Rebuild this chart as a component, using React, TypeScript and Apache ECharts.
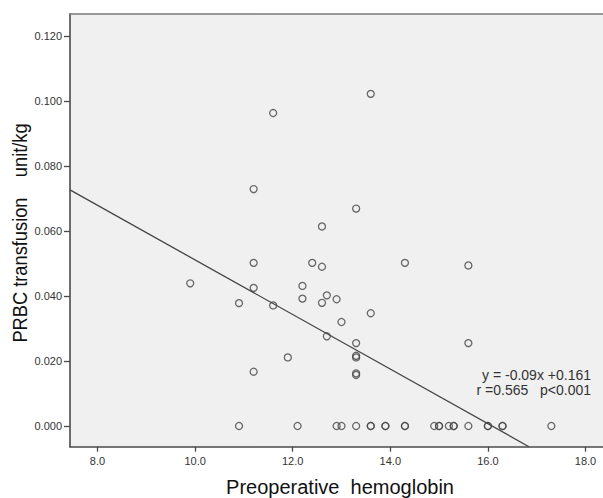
import React, { useEffect, useRef } from "react";
import * as echarts from "echarts";

// Preoperative hemoglobin (g/dL) vs PRBC transfusion (unit/kg)
const hemoglobin: number[] = [
  9.9, 10.9, 11.2, 11.2, 11.2, 11.2, 11.6, 11.6, 11.9, 12.2, 12.2, 12.4, 12.6, 12.6, 12.6,
  12.7, 12.7, 12.9, 13.0, 13.3, 13.3, 13.3, 13.3, 13.3, 13.3, 13.6, 13.6, 14.3, 15.6, 15.6,
];
const transfusion: number[] = [
  0.0439, 0.0378, 0.0729, 0.0502, 0.0425, 0.0167, 0.0963, 0.0371, 0.0211, 0.0431, 0.0392,
  0.0502, 0.0614, 0.049, 0.0379, 0.0402, 0.0276, 0.039, 0.032, 0.0669, 0.0255, 0.0216,
  0.0211, 0.0162, 0.0157, 0.1022, 0.0347, 0.0502, 0.0494, 0.0255,
];
// patients with no transfusion (value 0)
const hemoglobinZero: number[] = [
  10.9, 12.1, 12.9, 13.0, 13.3, 13.6, 13.6, 13.9, 13.9, 14.3, 14.3, 14.9, 15.0, 15.0, 15.2,
  15.3, 15.3, 15.6, 16.0, 16.0, 16.3, 16.3, 17.3,
];
const zeroValue = 0;

const xTicks: number[] = [8, 10, 12, 14, 16, 18];
const yTicks: number[] = [0, 0.02, 0.04, 0.06, 0.08, 0.1, 0.12];

const fitSlope = -0.0084;
const fitIntercept = 0.1351;
const annotationLine1 = "y = -0.09x +0.161";
const annotationLine2 = "r =0.565   p<0.001";

const xMin = 7.4365;
const xMax = 18.359;
const yMin = -0.00637;
const yMax = 0.12677;

const FONT = "'Liberation Sans', Arial, sans-serif";

export default function App() {
  const ref = useRef<HTMLDivElement>(null);
  useEffect(() => {
    if (!ref.current) return;
    const chart = echarts.init(ref.current, undefined, { renderer: "svg" });

    const points: number[][] = hemoglobin.map((x, i) => [x, transfusion[i]]);
    const zeros: number[][] = hemoglobinZero.map((x) => [x, zeroValue]);
    const xEnd = (fitIntercept - yMin) / -fitSlope;
    const fitLine: number[][] = [
      [xMin, fitIntercept + fitSlope * xMin],
      [xEnd, fitIntercept + fitSlope * xEnd],
    ];

    chart.setOption({
      animation: false,
      backgroundColor: "#ffffff",
      grid: {
        left: 70,
        top: 14,
        right: 0,
        bottom: 498 - 446.7,
        show: true,
        backgroundColor: "#f0f0f0",
        borderWidth: 0,
      },
      xAxis: [
        {
          type: "value",
          min: xMin,
          max: xMax,
          splitLine: { show: false },
          axisLine: { show: true, onZero: false, lineStyle: { color: "#4a4a4a", width: 1.6 } },
          axisTick: {
            show: true,
            inside: false,
            length: 5,
            customValues: xTicks,
            lineStyle: { color: "#4a4a4a", width: 1.3 },
          },
          axisLabel: {
            customValues: xTicks,
            formatter: (v: number) => v.toFixed(1),
            color: "#333",
            fontSize: 11,
            fontFamily: FONT,
            margin: 9,
          },
        },
        {
          type: "value",
          position: "top",
          min: xMin,
          max: xMax,
          splitLine: { show: false },
          axisLine: { show: true, onZero: false, lineStyle: { color: "#7a7a7a", width: 1.6 } },
          axisTick: { show: false },
          axisLabel: { show: false },
        },
      ],
      yAxis: {
        type: "value",
        min: yMin,
        max: yMax,
        splitLine: { show: false },
        axisLine: { show: true, onZero: false, lineStyle: { color: "#4a4a4a", width: 1.6 } },
        axisTick: {
          show: true,
          inside: false,
          length: 6,
          customValues: yTicks,
          lineStyle: { color: "#4a4a4a", width: 1.3 },
        },
        axisLabel: {
          customValues: yTicks,
          formatter: (v: number) => v.toFixed(3),
          color: "#333",
          fontSize: 11,
          fontFamily: FONT,
          margin: 8,
        },
      },
      series: [
        {
          type: "line",
          data: fitLine,
          showSymbol: false,
          symbol: "none",
          lineStyle: { color: "#444", width: 1.3 },
          z: 2,
        },
        {
          type: "scatter",
          data: points,
          symbol: "circle",
          symbolSize: 7,
          itemStyle: { color: "rgba(0,0,0,0)", borderColor: "#444", borderWidth: 1.3 },
          z: 3,
        },
        {
          type: "scatter",
          data: zeros,
          symbol: "circle",
          symbolSize: 7,
          itemStyle: { color: "rgba(0,0,0,0)", borderColor: "#444", borderWidth: 1.3 },
          z: 3,
        },
      ],
      graphic: [
        {
          type: "text",
          x: 591,
          y: 367,
          style: {
            text: annotationLine1 + "\n" + annotationLine2,
            font: `14px ${FONT}`,
            lineHeight: 15,
            fill: "#333",
            align: "right",
            verticalAlign: "top",
          },
          z: 10,
        },
        {
          type: "text",
          x: 340,
          y: 487,
          style: {
            text: "Preoperative  hemoglobin",
            font: `20px ${FONT}`,
            fill: "#111",
            align: "center",
            verticalAlign: "middle",
          },
          z: 10,
        },
        {
          type: "text",
          x: 20,
          y: 233,
          rotation: Math.PI / 2,
          scaleX: 0.87,
          style: {
            text: "PRBC transfusion    unit/kg",
            font: `21px ${FONT}`,
            fill: "#111",
            align: "center",
            verticalAlign: "middle",
          },
          z: 10,
        },
      ],
    });
    return () => chart.dispose();
  }, []);
  return (
    <div
      ref={ref}
      style={{ position: "absolute", left: 0, top: 0, width: 603, height: 498 }}
    />
  );
}
